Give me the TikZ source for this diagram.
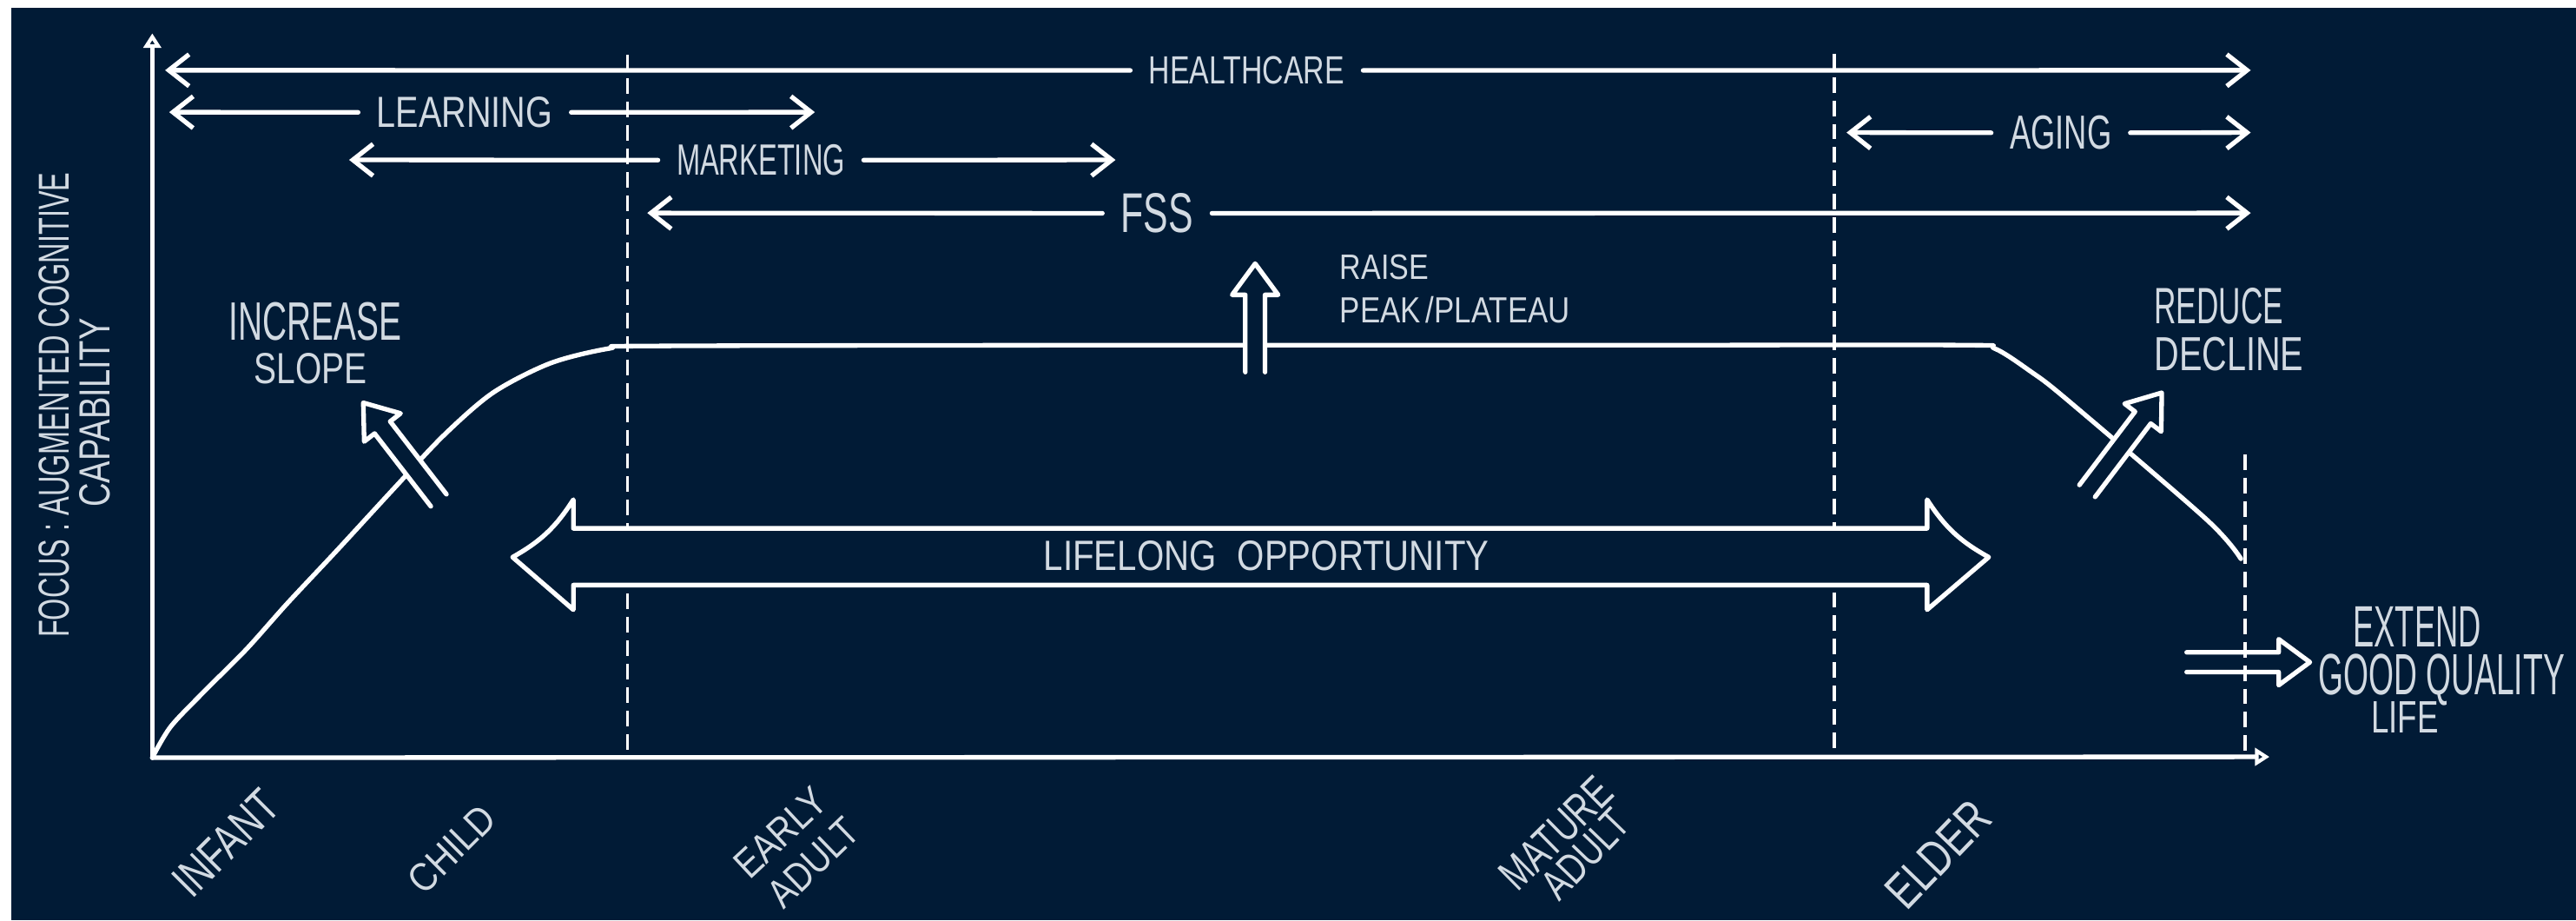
\documentclass[tikz,border=0pt]{standalone}
\usepackage{fontspec}
\setmainfont{Liberation Sans}
\usepackage{graphicx}
\usetikzlibrary{arrows.meta}
\definecolor{bgnavy}{RGB}{1,27,54}
\definecolor{txtc}{RGB}{210,218,226}
\newlength\myu
\setlength\myu{0.02cm}
\newcommand\lbl[3]{\resizebox{#1\myu}{#2\myu}{#3}}
\newcommand\hollowarr[3]{%
  \begin{scope}[shift={#1},rotate=#2]
    \draw[ln,fill=bgnavy] (0,6) -- ({#3-19},6) -- ({#3-19},14) -- (#3,0) -- ({#3-19},-14) -- ({#3-19},-6) -- (0,-6);
  \end{scope}}
\newcommand\hollowopen[3]{%
  \begin{scope}[shift={#1},rotate=#2]
    \draw[ln] (0,6) -- ({#3-19},6) -- ({#3-19},14) -- (#3,0) -- ({#3-19},-14) -- ({#3-19},-6) -- (0,-6);
  \end{scope}}
\begin{document}
\begin{tikzpicture}[x=0.02cm,y=-0.02cm,
  ln/.style={draw=white,line width=1.6pt,line cap=round,line join=round},
  dsh/.style={draw=white,line width=1.1pt,dash pattern=on 0.19cm off 0.095cm},
  barb/.style={-{Straight Barb[length=7pt,width=11pt]}},
  axhead/.style={-{Triangle[open,length=5pt,width=6pt]}},
  lab/.style={text=txtc,inner sep=0pt,anchor=base west},
  glab/.style={text=txtc,inner ysep=0pt,inner xsep=0.22cm,anchor=base west},
  rlab/.style={text=txtc,inner sep=0pt,anchor=center}]
% background
\fill[white] (0,0) rectangle (1568,560);
\fill[bgnavy] (7,5) rectangle (1568,560);
\useasboundingbox (0,0) rectangle (1568,560);

% coordinates
\coordinate (origin) at (92.7,461);
\coordinate (ytop) at (92.7,20.3);
\coordinate (xend) at (1381.4,460.5);
\coordinate (d1t) at (382,33.5);
\coordinate (d1b) at (382,461);
\coordinate (d2t) at (1116.5,32.6);
\coordinate (d2b) at (1116.5,461);
\coordinate (d3t) at (1366.5,276.5);
\coordinate (d3b) at (1366.5,460);

% dashed stage separators
\draw[dsh] (d1t) -- (d1b);
\draw[dsh] (d2t) -- (d2b);
\draw[dsh] (d3t) -- (d3b);

% axes
\draw[ln,axhead] (origin) -- (ytop);
\draw[ln,axhead] (origin) -- (xend);

% capability curve
\draw[ln] plot[smooth,tension=0.5] coordinates {(92.7,461) (104,442) (125,420) (150,395) (175,367) (205,335) (240,297) (270,265) (300,239) (335,221) (371,212) (400,210.5) (700,210) (1000,210) (1195,210) (1214,212) (1236,226) (1258,243) (1343,316) (1364,340)};

% lifelong opportunity double arrow
\draw[ln,fill=bgnavy] (349,321.5) -- (1173,321.5) -- (1173,304) to[bend right=14] (1210.5,339) -- (1173,371) -- (1173,356) -- (349,356) -- (349,371) -- (312,339) to[bend right=14] (349,304) -- cycle;
\node[lab] (life) at (635,347.3) {\lbl{271}{18}{LIFELONG\hspace{0.6em}OPPORTUNITY}};

% hollow arrows
\hollowarr{(267,304.4)}{127.7}{75}
\hollowarr{(764,226.4)}{90}{66}
\hollowarr{(1270.5,298.7)}{52.8}{75}
\hollowopen{(1331,402.9)}{0}{75}

% top range arrows
\node[glab] (hc) at (688,51.1) {\lbl{119}{16.7}{HEALTHCARE}};
\coordinate (hcL) at (100.5,42.75);
\coordinate (hcR) at (1370,42.75);
\draw[ln,barb] (hc.west) -- (hcL);
\draw[ln,barb] (hc.east) -- (hcR);

\node[glab] (lrn) at (218,77.5) {\lbl{107}{18.5}{LEARNING}};
\coordinate (lrnL) at (103,68.25);
\coordinate (lrnR) at (496,68.25);
\draw[ln,barb] (lrn.west) -- (lrnL);
\draw[ln,barb] (lrn.east) -- (lrnR);

\node[glab] (mkt) at (400.5,106.6) {\lbl{102.5}{18.6}{MARKETING}};
\coordinate (mktL) at (212.5,97.3);
\coordinate (mktR) at (679,97.3);
\draw[ln,barb] (mkt.west) -- (mktL);
\draw[ln,barb] (mkt.east) -- (mktR);

\node[glab] (fss) at (671,141.5) {\lbl{44}{23.8}{FSS}};
\coordinate (fssL) at (394,129.6);
\coordinate (fssR) at (1370,129.6);
\draw[ln,barb] (fss.west) -- (fssL);
\draw[ln,barb] (fss.east) -- (fssR);

\node[glab] (agi) at (1212,90.8) {\lbl{62}{20.3}{AGING}};
\coordinate (agiL) at (1124,80.65);
\coordinate (agiR) at (1370,80.65);
\draw[ln,barb] (agi.west) -- (agiL);
\draw[ln,barb] (agi.east) -- (agiR);

% annotations
\node[lab] (inc1) at (139.2,207.1) {\lbl{105}{23}{INCREASE}};
\node[lab] (inc2) at (154.2,233.5) {\lbl{68.7}{18.5}{SLOPE}};
\node[lab] (rai1) at (815.3,170) {\lbl{54}{15}{RAISE}};
\node[lab] (rai2) at (815.3,196.5) {\lbl{140}{16}{PEAK\,/PLATEAU}};
\node[lab] (red1) at (1311,197) {\lbl{78.5}{21.7}{REDUCE}};
\node[lab] (red2) at (1311,225.6) {\lbl{90.8}{20.3}{DECLINE}};
\node[lab] (ext1) at (1432,393.4) {\lbl{78}{24.4}{EXTEND}};
\node[lab] (ext2) at (1410.7,422.7) {\lbl{150}{24.7}{GOOD QUALITY}};
\node[lab] (ext3) at (1443,446) {\lbl{41}{19}{LIFE}};

% y axis label
\node[rlab,rotate=90] (yl1) at (32.8,246.5) {\lbl{283}{18.4}{FOCUS : AUGMENTED COGNITIVE}};
\node[rlab,rotate=90] (yl2) at (58,251.2) {\lbl{115}{18.5}{CAPABILITY}};

% stage labels
\node[rlab,rotate=45] (st1) at (137.5,513) {\lbl{78}{20}{INFANT}};
\node[rlab,rotate=45] (st2) at (275,516.5) {\lbl{64}{17}{CHILD}};
\node[rlab,rotate=43] (st3a) at (475,506.6) {\lbl{67}{17}{EARLY}};
\node[rlab,rotate=44] (st3b) at (495.2,524.7) {\lbl{66}{17}{ADULT}};
\node[rlab,rotate=44.6] (st4a) at (947.2,507) {\lbl{84}{19}{MATURE}};
\node[rlab,rotate=46] (st4b) at (965.2,519.8) {\lbl{64}{18}{ADULT}};
\node[rlab,rotate=46] (st5) at (1179.8,519.8) {\lbl{77}{21}{ELDER}};
\end{tikzpicture}
\end{document}
